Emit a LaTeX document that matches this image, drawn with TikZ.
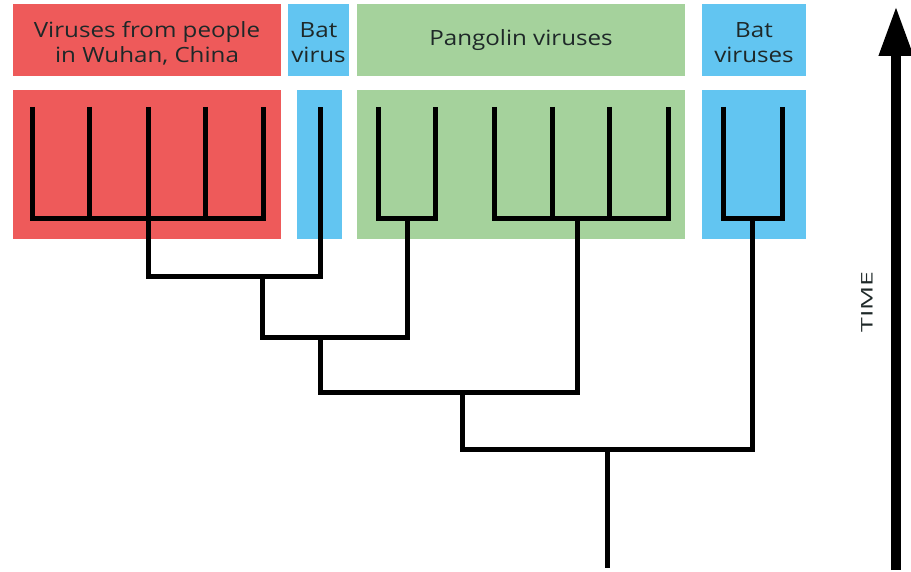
\documentclass[tikz,border=0pt]{standalone}
\usepackage{fontspec}
\setmainfont{Open Sans}[FakeStretch=1.15]
\usepackage{graphicx}
\usetikzlibrary{arrows.meta,positioning}
\definecolor{wuhanred}{RGB}{238,90,90}
\definecolor{batblue}{RGB}{98,197,241}
\definecolor{pangogreen}{RGB}{165,210,156}
\definecolor{labeltext}{RGB}{30,40,40}
\newcommand{\twolines}[2]{\raisebox{-10pt}[0pt][0pt]{\begin{tabular}{@{}c@{}}#1\\#2\end{tabular}}}

\begin{document}
\begin{tikzpicture}[x=1pt,y=-1pt,line width=5pt]

		% Styles for the boxes and branches
		\tikzstyle{labelbox}=[rectangle,inner sep=0pt,minimum height=72pt,text=labeltext,font=\fontsize{21}{25}\selectfont]
		\tikzstyle{cladebox}=[rectangle,inner sep=0pt,minimum height=149pt]
		\tikzstyle{branch}=[draw=black,line width=5pt]

		\useasboundingbox (0,0) rectangle (911,572);

		% Label boxes
		\node[labelbox,fill=wuhanred,minimum width=268pt] (lwuhan) at (147,40) {\twolines{Viruses from people}{in Wuhan, China}};
		\node[labelbox,fill=batblue,minimum width=61pt] (lbat) at (318.5,40) {\twolines{Bat}{virus}};
		\node[labelbox,fill=pangogreen,minimum width=328pt] (lpango) at (521,40) {Pangolin viruses};
		\node[labelbox,fill=batblue,minimum width=104pt] (lbats) at (754,40) {\twolines{Bat}{viruses}};

		% Clade boxes
		\node[cladebox,fill=wuhanred,minimum width=268pt] (cwuhan) at (147,164.5) {};
		\node[cladebox,fill=batblue,minimum width=45pt] (cbat) at (319.5,164.5) {};
		\node[cladebox,fill=pangogreen,minimum width=328pt] (cpango) at (521,164.5) {};
		\node[cladebox,fill=batblue,minimum width=104pt] (cbats) at (754,164.5) {};

		% Leaf tips
		\foreach \name/\x in {w1/32,w2/89,w3/148,w4/205,w5/263,b1/320,p1/378,p2/435,q1/494,q2/552,q3/609,q4/668,v1/723,v2/782}
			\coordinate (\name) at (\x,107);

		% Clade joints and inner nodes
		\coordinate (wj) at (148,219);
		\coordinate (pj) at (407,219);
		\coordinate (qj) at (577,219);
		\coordinate (vj) at (752,219);
		\coordinate (n1) at (262,277);
		\coordinate (n2) at (320,337);
		\coordinate (n3) at (462,392);
		\coordinate (n4) at (607,449);
		\coordinate (root) at (607,568);

		% Clades
		\draw[branch] (w1) |- (wj) -| (w5);
		\foreach \i in {2,3,4}
			\draw[branch] (w\i) -- (w\i |- wj);
		\draw[branch] (p1) |- (pj) -| (p2);
		\draw[branch] (q1) |- (qj) -| (q4);
		\foreach \i in {2,3}
			\draw[branch] (q\i) -- (q\i |- qj);
		\draw[branch] (v1) |- (vj) -| (v2);

		% Inner branches
		\draw[branch] (wj) |- (n1) -| (b1);
		\draw[branch] (n1) |- (n2) -| (pj);
		\draw[branch] (n2) |- (n3) -| (qj);
		\draw[branch] (n3) |- (n4) -| (vj);
		\draw[branch] (n4) -- (root);

		% Time axis
		\coordinate (t0) at (896,570);
		\coordinate (t1) at (896,6);
		\draw[line width=10pt,-{Triangle[width=32pt,length=50pt]}] (t0) -- (t1);
		\node[rotate=90,text=labeltext,font=\fontsize{16}{18}\selectfont] (time) at (867,302) {\scalebox{1.45}[1]{TIME}};

	\end{tikzpicture}
\end{document}
